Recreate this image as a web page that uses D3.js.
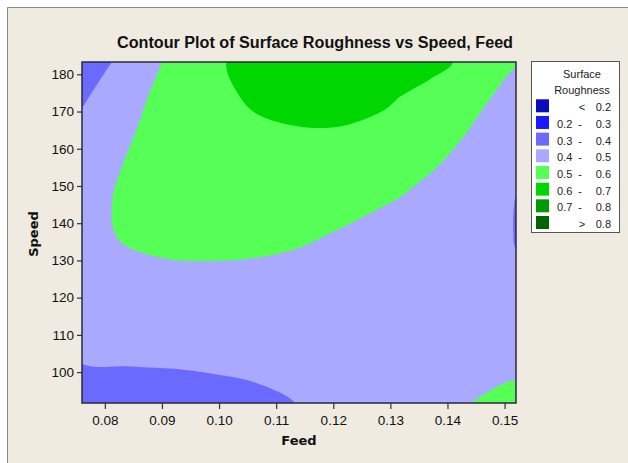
<!DOCTYPE html>
<html><head><meta charset="utf-8">
<script src="https://cdn.jsdelivr.net/npm/d3@7"></script>
<style>body{margin:0;background:#fff}</style>
</head><body><svg id="c" width="628" height="463"></svg>
<script>
// Grid of estimated surface roughness values (rows: speed ascending, cols: feed ascending)
const feedGrid = [0.076, 0.0836, 0.0912, 0.0988, 0.1064, 0.114, 0.1216, 0.1292, 0.1368, 0.1444, 0.152];
const speedGrid = [91.7, 100.86, 110.02, 119.18, 128.34, 137.5, 146.66, 155.82, 164.98, 174.14, 183.3];
const roughness = [
  [0.375, 0.378, 0.382, 0.386, 0.390, 0.401, 0.426, 0.451, 0.476, 0.501, 0.530],
  [0.3947, 0.3967, 0.3995, 0.4023, 0.4068, 0.415, 0.430, 0.440, 0.450, 0.470, 0.484],
  [0.430, 0.440, 0.445, 0.447, 0.447, 0.445, 0.445, 0.445, 0.447, 0.450, 0.450],
  [0.447, 0.462, 0.468, 0.470, 0.468, 0.462, 0.455, 0.445, 0.435, 0.430, 0.420],
  [0.460, 0.484, 0.493, 0.494, 0.491, 0.482, 0.475, 0.455, 0.440, 0.425, 0.402],
  [0.470, 0.510, 0.525, 0.530, 0.527, 0.515, 0.495, 0.458, 0.440, 0.430, 0.398],
  [0.465, 0.515, 0.530, 0.535, 0.540, 0.540, 0.530, 0.510, 0.475, 0.440, 0.399],
  [0.450, 0.503, 0.530, 0.550, 0.560, 0.565, 0.560, 0.545, 0.510, 0.470, 0.415],
  [0.424, 0.488, 0.535, 0.565, 0.585, 0.595, 0.593, 0.575, 0.550, 0.495, 0.440],
  [0.387, 0.461, 0.535, 0.575, 0.615, 0.640, 0.650, 0.615, 0.572, 0.523, 0.472],
  [0.3375, 0.428, 0.513, 0.585, 0.630, 0.665, 0.675, 0.665, 0.630, 0.575, 0.505]
];
const bandThresholds = [0, 0.2, 0.3, 0.4, 0.5, 0.6, 0.7, 0.8];
const bandColors = ["#0C0CBE", "#1A1AFF", "#6A6AFF", "#A9A9FF", "#55FF55", "#00D600", "#009A00", "#006400"];
const legendLow = ["", "0.2", "0.3", "0.4", "0.5", "0.6", "0.7", ""];
const legendHigh = ["0.2", "0.3", "0.4", "0.5", "0.6", "0.7", "0.8", "0.8"];
const legendSign = ["<", "-", "-", "-", "-", "-", "-", ">"];
const xTicks = [0.08, 0.09, 0.10, 0.11, 0.12, 0.13, 0.14, 0.15];
const yTicks = [100, 110, 120, 130, 140, 150, 160, 170, 180];

const svg = d3.select("#c");
svg.append("rect").attr("width", 628).attr("height", 463).attr("fill", "#fff");
svg.append("rect").attr("x", 7).attr("y", 7).attr("width", 621).attr("height", 456).attr("fill", "#EFEBE1");
svg.append("path").attr("d", "M7.5,463V7.5H628").attr("fill", "none").attr("stroke", "#8a8a8a").attr("stroke-width", 1);

const L = 82, R = 516, T = 62, B = 403;
const x = d3.scaleLinear().domain([0.076, 0.152]).range([L, R]);
const y = d3.scaleLinear().domain([91.7, 183.3]).range([B, T]);

svg.append("clipPath").attr("id", "pc").append("rect")
  .attr("x", L).attr("y", T).attr("width", R - L).attr("height", B - T);

const nx = feedGrid.length, ny = speedGrid.length;
const fStep = (feedGrid[nx - 1] - feedGrid[0]) / (nx - 1);
const sStep = (speedGrid[ny - 1] - speedGrid[0]) / (ny - 1);
const px = cx => x(feedGrid[0] + (cx - 0.5) * fStep);
const py = cy => y(speedGrid[0] + (cy - 0.5) * sStep);
const contours = d3.contours().size([nx, ny]).thresholds(bandThresholds)(roughness.flat());

const ringLine = d3.line().curve(d3.curveCatmullRomClosed.alpha(0.5));
function contourPath(c) {
  let d = "";
  c.coordinates.forEach(poly => poly.forEach(ring => {
    let pts = ring.map(p => [px(p[0]), py(p[1])]);
    if (pts.length > 1) {
      const a = pts[0], b = pts[pts.length - 1];
      if (a[0] === b[0] && a[1] === b[1]) pts = pts.slice(0, -1);
    }
    // drop near-duplicate points
    const clean = [];
    pts.forEach(p => {
      const q = clean[clean.length - 1];
      if (!q || Math.hypot(p[0] - q[0], p[1] - q[1]) > 0.5) clean.push(p);
    });
    if (clean.length > 2) d += ringLine(clean);
  }));
  return d;
}

svg.append("g").attr("clip-path", "url(#pc)")
  .selectAll("path").data(contours).join("path")
  .attr("d", contourPath)
  .attr("fill", (d, i) => bandColors[i])
  .attr("fill-rule", "evenodd");

// axes
const xa = svg.append("g").attr("transform", `translate(0,${B})`)
  .call(d3.axisBottom(x).tickValues(xTicks).tickFormat(d3.format(".2f")).tickSize(6).tickPadding(6));
const ya = svg.append("g").attr("transform", `translate(${L},0)`)
  .call(d3.axisLeft(y).tickValues(yTicks).tickFormat(d3.format("d")).tickSize(5).tickPadding(3));
[xa, ya].forEach(a => {
  a.select(".domain").remove();
  a.selectAll("line").attr("stroke", "#333").attr("stroke-width", 1.2);
  a.selectAll("text").attr("font-family", "Liberation Sans, Arial, sans-serif").attr("font-size", 13.5).attr("fill", "#111");
});

svg.append("rect").attr("x", L).attr("y", T).attr("width", R - L).attr("height", B - T)
  .attr("fill", "none").attr("stroke", "#2a2a3a").attr("stroke-width", 1.5);

// title and labels
svg.append("text").attr("x", 315).attr("y", 47.5).attr("text-anchor", "middle")
  .attr("font-family", "Liberation Sans, Arial, sans-serif").attr("font-weight", "bold").attr("font-size", 16)
  .attr("textLength", 396).attr("lengthAdjust", "spacingAndGlyphs").attr("fill", "#111")
  .text("Contour Plot of Surface Roughness vs Speed, Feed");
svg.append("text").attr("x", (L + R) / 2).attr("y", 445).attr("text-anchor", "middle")
  .attr("font-family", "DejaVu Sans, sans-serif").attr("font-weight", "bold").attr("font-size", 13).attr("fill", "#111")
  .text("Feed");
svg.append("text").attr("transform", "translate(37.5,234) rotate(-90)").attr("text-anchor", "middle")
  .attr("font-family", "DejaVu Sans, sans-serif").attr("font-weight", "bold").attr("font-size", 13).attr("fill", "#111")
  .text("Speed");

// legend
const lg = svg.append("g").attr("font-family", "Liberation Sans, Arial, sans-serif").attr("font-size", 11).attr("fill", "#222");
lg.append("rect").attr("x", 531.5).attr("y", 61.5).attr("width", 88).attr("height", 171)
  .attr("fill", "#fff").attr("stroke", "#555").attr("stroke-width", 1);
lg.append("text").attr("x", 582).attr("y", 77.5).attr("text-anchor", "middle").text("Surface");
lg.append("text").attr("x", 582).attr("y", 94).attr("text-anchor", "middle").text("Roughness");
const rows = lg.selectAll("g.row").data(bandColors).join("g").attr("class", "row")
  .attr("transform", (d, i) => `translate(0,${99.3 + i * 16.67})`);
rows.append("rect").attr("x", 536).attr("y", 0).attr("width", 13).attr("height", 13).attr("fill", d => d);
rows.append("text").attr("x", 557).attr("y", 12).text((d, i) => legendLow[i]);
rows.append("text").attr("x", (d, i) => (legendLow[i] ? 580 : 582)).attr("y", 12).attr("text-anchor", "middle").text((d, i) => legendSign[i]);
rows.append("text").attr("x", 611).attr("y", 12).attr("text-anchor", "end").text((d, i) => legendHigh[i]);
</script></body></html>
